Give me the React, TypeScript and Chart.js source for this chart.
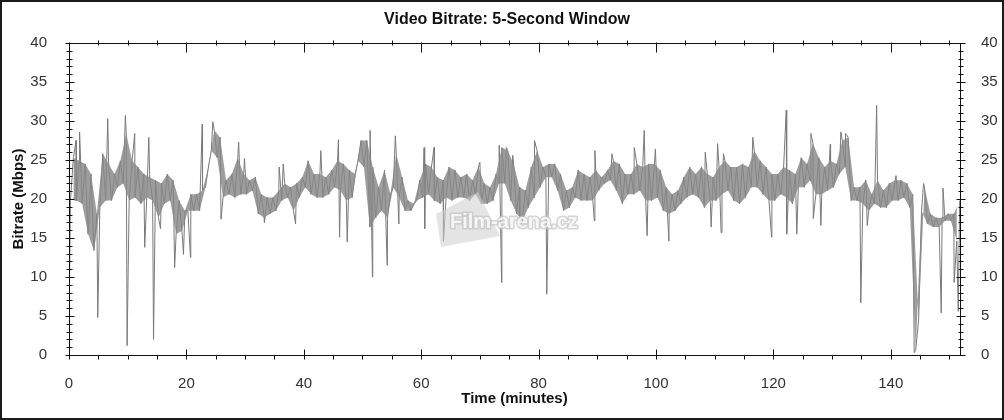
import { useEffect, useRef } from 'react';
import { Chart, registerables } from 'chart.js';

Chart.register(...registerables);

const TITLE = 'Video Bitrate: 5-Second Window';
const X_TITLE = 'Time (minutes)';
const Y_TITLE = 'Bitrate (Mbps)';
const WATERMARK = 'Film-arena.cz';

const X_MAX = 151.8;
const Y_MAX = 40;
const xTickValues = [0, 20, 40, 60, 80, 100, 120, 140];
const yTickValues = [0, 5, 10, 15, 20, 25, 30, 35, 40];

// Per-minute upper edge of the bitrate band (Mbps), minute 0..151
const bandHigh = [
  25.3, 24.9, 24.5, 23.2, 18.1, 25.8, 24.5, 23.2, 24.9, 28.4,
  24.9, 24.1, 23.2, 22.8, 22.4, 22.0, 23.2, 22.4, 19.8, 18.5,
  20.6, 20.6, 21.1, 24.1, 28.8, 27.9, 22.4, 23.2, 25.3, 23.2,
  22.4, 22.8, 20.6, 20.2, 20.2, 21.1, 22.0, 21.5, 22.0, 22.8,
  24.9, 23.2, 23.2, 22.8, 23.7, 24.9, 24.5, 23.7, 23.2, 27.5,
  27.5, 24.1, 21.5, 23.7, 20.6, 25.8, 22.8, 19.8, 19.4, 22.4,
  24.5, 24.1, 22.8, 22.4, 24.1, 23.7, 22.8, 23.2, 22.4, 24.1,
  22.0, 21.5, 23.2, 26.6, 26.2, 24.5, 21.5, 21.1, 24.1, 26.2,
  24.1, 24.5, 24.5, 23.2, 21.1, 21.5, 23.7, 23.2, 22.8, 23.7,
  22.8, 23.7, 24.9, 24.5, 23.2, 23.2, 24.5, 24.1, 24.5, 24.5,
  23.7, 21.5, 20.6, 21.1, 22.8, 24.1, 23.2, 24.1, 23.2, 22.8,
  24.1, 24.9, 24.1, 24.1, 24.5, 24.1, 26.2, 24.9, 24.1, 23.2,
  23.2, 24.1, 23.7, 23.2, 25.3, 24.5, 27.1, 25.3, 24.1, 24.9,
  24.5, 27.5, 27.9, 21.5, 21.5, 22.4, 20.6, 22.4, 21.1, 22.0,
  22.4, 22.4, 22.0, 20.6, 4.5, 21.5, 18.1, 17.6, 17.6, 18.1,
  18.1, 19.8,
];

// Per-minute lower edge of the bitrate band (Mbps), minute 0..151
const bandLow = [
  19.8, 19.8, 19.4, 15.5, 13.4, 18.9, 19.8, 19.8, 21.5, 22.0,
  19.8, 20.2, 19.4, 20.2, 19.8, 17.6, 19.4, 19.8, 15.5, 15.9,
  18.5, 18.5, 18.5, 21.5, 26.2, 25.3, 20.2, 20.6, 20.2, 20.6,
  20.6, 21.1, 18.1, 17.6, 18.1, 18.5, 19.8, 20.2, 18.5, 20.2,
  21.5, 20.6, 20.2, 20.2, 20.6, 21.5, 21.1, 19.8, 20.2, 24.9,
  24.1, 16.4, 17.6, 18.5, 17.6, 21.5, 20.2, 18.5, 18.5, 19.8,
  20.2, 20.6, 19.8, 19.4, 20.2, 19.8, 20.2, 20.2, 19.8, 20.6,
  19.4, 19.4, 19.8, 22.0, 22.0, 19.8, 18.1, 17.2, 18.9, 20.2,
  21.5, 22.8, 22.8, 21.1, 18.5, 18.9, 20.2, 19.8, 19.8, 19.8,
  21.1, 22.0, 22.4, 21.1, 19.4, 20.6, 20.6, 21.1, 19.8, 19.8,
  20.2, 18.5, 18.1, 18.5, 19.4, 20.2, 20.6, 20.2, 18.9, 19.8,
  19.8, 20.6, 21.1, 19.8, 19.4, 20.2, 21.5, 21.5, 20.6, 19.8,
  19.8, 20.6, 20.2, 19.4, 21.5, 21.5, 22.4, 20.6, 20.6, 21.1,
  21.5, 23.2, 24.1, 19.8, 19.8, 19.4, 18.5, 19.4, 18.9, 18.9,
  19.8, 19.8, 20.2, 18.9, 0.6, 18.5, 16.8, 16.4, 16.4, 17.2,
  17.2, 14.6,
];

// Isolated peaks and dips (minutes, Mbps)
const spikeTimes = [
  0.0, 1.2, 1.8, 4.9, 6.6, 9.6, 9.9, 11.2, 12.9, 13.6,
  14.4, 15.6, 18.0, 19.5, 20.7, 22.7, 24.5, 25.9, 28.9, 29.9,
  33.3, 35.8, 36.5, 38.6, 42.9, 45.9, 46.1, 47.4, 51.3, 51.7,
  54.2, 55.6, 56.2, 60.5, 60.6, 62.2, 63.8, 70.0, 73.3, 73.7,
  74.5, 75.6, 76.8, 79.3, 81.4, 89.5, 89.6, 92.5, 96.3, 98.0,
  98.5, 99.9, 102.2, 108.4, 109.4, 110.5, 111.1, 111.5, 116.5, 119.7,
  122.2, 122.3, 124.0, 126.4, 126.8, 128.1, 129.7, 131.5, 132.3, 134.9,
  136.0, 137.6, 140.9, 144.0, 145.6, 148.6, 148.9, 150.8, 151.5,
];
const spikeValues = [
  3.0, 27.5, 28.6, 4.8, 30.3, 30.7, 1.2, 28.4, 13.8, 27.9,
  2.0, 16.2, 11.2, 12.9, 12.5, 29.6, 29.9, 17.4, 27.3, 25.2,
  17.0, 24.1, 24.5, 16.8, 26.2, 27.6, 15.1, 14.5, 28.8, 10.0,
  11.5, 28.1, 16.8, 26.6, 16.2, 26.6, 14.6, 24.7, 26.9, 9.3,
  26.6, 25.6, 16.4, 27.5, 7.8, 17.2, 26.2, 25.8, 26.6, 28.8,
  15.3, 26.4, 14.6, 26.0, 16.4, 27.1, 15.7, 25.8, 27.9, 15.1,
  31.4, 15.5, 15.5, 28.4, 17.5, 16.6, 27.0, 28.6, 28.4, 6.7,
  16.6, 32.0, 23.0, 0.3, 22.0, 5.4, 21.4, 9.3, 5.6,
];

const FONT = 'Arial, "Liberation Sans", sans-serif';
const LINE_COLOR = '#7a7a7a';
const BAND_COLOR = 'rgba(136,136,136,0.82)';

function buildPoints() {
  const pts: { x: number; y: number }[] = [];
  bandHigh.forEach((h, i) => {
    pts.push({ x: i + 0.25, y: bandLow[i] });
    pts.push({ x: i + 0.75, y: h });
  });
  spikeTimes.forEach((t, i) => pts.push({ x: t, y: spikeValues[i] }));
  pts.sort((a, b) => a.x - b.x);
  return pts;
}

const highEdge = () => bandHigh.map((v, i) => ({ x: i + 0.75, y: v }));
const lowEdge = () => bandLow.map((v, i) => ({ x: i + 0.25, y: v }));

const decorPlugin = {
  id: 'decor',
  beforeDraw(chart: any) {
    const { ctx, width, height } = chart;
    ctx.save();
    ctx.fillStyle = '#ffffff';
    ctx.fillRect(0, 0, width, height);
    ctx.restore();
  },
  afterDatasetsDraw(chart: any) {
    const { ctx } = chart;
    ctx.save();
    ctx.fillStyle = 'rgba(205,205,205,0.55)';
    ctx.beginPath();
    ctx.moveTo(436, 214);
    ctx.lineTo(478, 192);
    ctx.lineTo(500, 236);
    ctx.lineTo(441, 247);
    ctx.closePath();
    ctx.fill();
    ctx.font = `bold 20px ${FONT}`;
    ctx.textAlign = 'left';
    ctx.textBaseline = 'alphabetic';
    ctx.lineJoin = 'round';
    ctx.lineWidth = 3;
    ctx.strokeStyle = 'rgba(195,195,195,0.7)';
    ctx.strokeText(WATERMARK, 450, 228);
    ctx.fillStyle = 'rgba(255,255,255,0.8)';
    ctx.fillText(WATERMARK, 450, 228);
    ctx.restore();
  },
  afterDraw(chart: any) {
    const { ctx, chartArea: a, scales, width, height } = chart;
    const xs = scales.x;
    const ys = scales.y;
    const L = Math.round(a.left) + 0.5;
    const R = Math.round(a.right) + 0.5;
    const T = Math.round(a.top) + 0.5;
    const B = Math.round(a.bottom) + 0.5;
    ctx.save();
    ctx.strokeStyle = '#111111';
    ctx.lineWidth = 1;
    ctx.beginPath();
    ctx.rect(L, T, R - L, B - T);
    ctx.stroke();
    ctx.beginPath();
    for (let v = 0; v <= Y_MAX; v++) {
      const py = Math.round(ys.getPixelForValue(v)) + 0.5;
      const major = v % 5 === 0;
      ctx.moveTo(L - (major ? 4 : 3), py);
      ctx.lineTo(L + (major ? 5 : 3), py);
      ctx.moveTo(R - (major ? 4 : 2), py);
      ctx.lineTo(R + (major ? 5 : 3), py);
    }
    for (let m = 0; m <= 150; m += 5) {
      const px = Math.round(xs.getPixelForValue(m)) + 0.5;
      const major = m % 20 === 0;
      if (major) {
        ctx.moveTo(px, B - 6);
        ctx.lineTo(px, B + 4);
        ctx.moveTo(px, T - 1);
        ctx.lineTo(px, T + 9);
      } else {
        ctx.moveTo(px, B);
        ctx.lineTo(px, B + 4);
        ctx.moveTo(px, T - 3);
        ctx.lineTo(px, T + 2);
      }
    }
    ctx.stroke();
    ctx.fillStyle = '#111111';
    ctx.font = `bold 16px ${FONT}`;
    ctx.textAlign = 'center';
    ctx.textBaseline = 'middle';
    ctx.fillText(TITLE, 507, 20);
    ctx.strokeStyle = '#1a1a1a';
    ctx.lineWidth = 2;
    ctx.strokeRect(1, 1, width - 2, height - 2);
    ctx.restore();
  },
};

export default function App() {
  const ref = useRef<HTMLCanvasElement | null>(null);
  useEffect(() => {
    document.body.style.margin = '0';
    const canvas = ref.current;
    if (!canvas) return;
    const tickFont = { family: FONT, size: 15 };
    const titleFont = { family: FONT, size: 15, weight: 'bold' as const };
    const chart = new Chart(canvas, {
      type: 'line',
      data: {
        datasets: [
          {
            data: highEdge(),
            borderWidth: 0,
            borderColor: 'rgba(0,0,0,0)',
            backgroundColor: BAND_COLOR,
            pointRadius: 0,
            tension: 0,
            fill: '+1',
          },
          {
            data: lowEdge(),
            borderWidth: 0,
            borderColor: 'rgba(0,0,0,0)',
            pointRadius: 0,
            tension: 0,
            fill: false,
          },
          {
            data: buildPoints(),
            borderColor: LINE_COLOR,
            borderWidth: 1,
            pointRadius: 0,
            tension: 0,
            fill: false,
          },
        ],
      },
      options: {
        animation: false,
        responsive: false,
        events: [],
        layout: { padding: { top: 43, left: 0, right: 0, bottom: 0 } },
        plugins: { legend: { display: false }, tooltip: { enabled: false }, title: { display: false } },
        scales: {
          x: {
            type: 'linear',
            position: 'bottom',
            min: 0,
            max: X_MAX,
            afterBuildTicks: (s: any) => {
              s.ticks = xTickValues.map((v) => ({ value: v }));
            },
            afterFit: (s: any) => {
              s.height = 65;
            },
            grid: { display: false },
            border: { display: false },
            ticks: { font: tickFont, color: '#333333', padding: 12, maxRotation: 0, autoSkip: false },
            title: { display: true, text: X_TITLE, font: titleFont, color: '#111111', padding: { top: 0, bottom: 12 } },
          },
          y: {
            type: 'linear',
            position: 'left',
            min: 0,
            max: Y_MAX,
            afterBuildTicks: (s: any) => {
              s.ticks = yTickValues.map((v) => ({ value: v }));
            },
            afterFit: (s: any) => {
              s.width = 69;
            },
            grid: { display: false },
            border: { display: false },
            ticks: { font: tickFont, color: '#333333', padding: 14, autoSkip: false },
            title: { display: true, text: Y_TITLE, font: titleFont, color: '#111111', padding: { top: 10, bottom: 0 } },
          },
          y2: {
            type: 'linear',
            position: 'right',
            min: 0,
            max: Y_MAX,
            afterBuildTicks: (s: any) => {
              s.ticks = yTickValues.map((v) => ({ value: v }));
            },
            afterFit: (s: any) => {
              s.width = 44;
            },
            grid: { display: false },
            border: { display: false },
            ticks: { font: tickFont, color: '#333333', padding: 13, autoSkip: false },
          },
        },
      },
      plugins: [decorPlugin],
    });
    return () => chart.destroy();
  }, []);
  return (
    <div style={{ position: 'fixed', left: 0, top: 0, width: 1004, height: 420 }}>
      <canvas ref={ref} width={1004} height={420} style={{ display: 'block' }} />
    </div>
  );
}
